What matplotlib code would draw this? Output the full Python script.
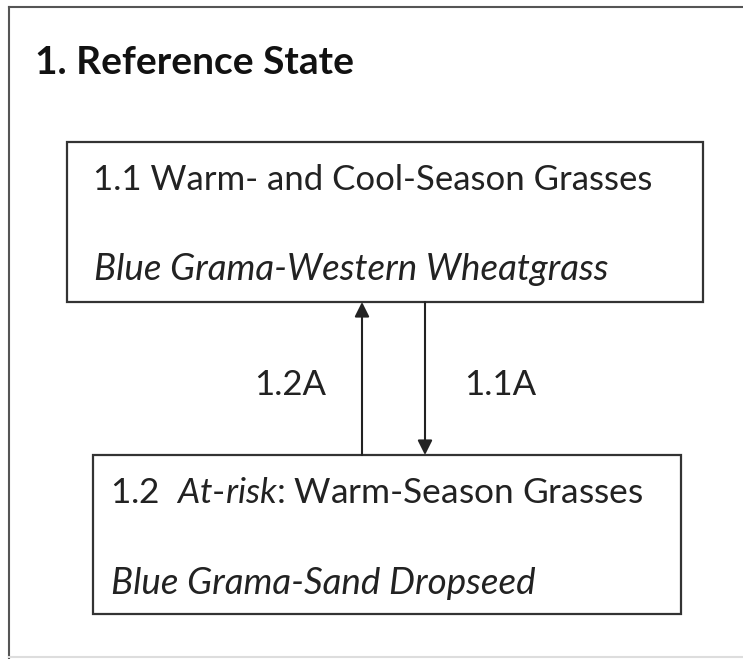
import matplotlib
matplotlib.use("Agg")
import matplotlib.pyplot as plt
from matplotlib.patches import Rectangle

# texts of the state diagram
title = "1. Reference State"
box_titles = ["1.1 Warm- and Cool-Season Grasses", "1.2  $\\it{At}$-$\\it{risk}$: Warm-Season Grasses"]
box_names = ["Blue Grama-Western Wheatgrass", "Blue Grama-Sand Dropseed"]
pathways = ["1.2A", "1.1A"]

plt.rcParams['font.family'] = ['Lato', 'DejaVu Sans']
plt.rcParams['mathtext.fontset'] = 'custom'
plt.rcParams['mathtext.it'] = 'Lato:italic'
plt.rcParams['mathtext.rm'] = 'Lato'

fig = plt.figure(figsize=(7.43, 6.59), dpi=100)
ax = fig.add_axes([0, 0, 1, 1])
ax.set_xlim(0, 743)
ax.set_ylim(659, 0)
ax.axis('off')

# outer frame
ax.plot([9, 9], [7, 659], color='#555555', lw=1.5)
ax.plot([9, 743], [7, 7], color='#555555', lw=1.5)
ax.plot([9, 743], [657, 657], color='#dddddd', lw=1.5)

ax.text(35, 63, title, fontsize=28, fontweight='bold', va='center', ha='left', color='#111111')

boxes = [(67, 142, 703, 302), (93, 455, 681, 614)]
pads = [26, 17]
sizes = [25, 25.4]
for (x0, y0, x1, y1), p, s, t, n in zip(boxes, pads, sizes, box_titles, box_names):
    ax.add_patch(Rectangle((x0, y0), x1 - x0, y1 - y0, fill=False, ec='#333333', lw=1.6))
    ax.text(x0 + p, y0 + 38, t, fontsize=s, va='center', ha='left', color='#222222')
    ax.text(x0 + p + 1, y0 + 128, n, fontsize=26.5, style='italic', va='center', ha='left', color='#222222')

# transition arrows
ax.annotate('', xy=(362, 302), xytext=(362, 455),
            arrowprops=dict(arrowstyle='-|>', color='#222222', lw=1.5, mutation_scale=22, shrinkA=0, shrinkB=0))
ax.annotate('', xy=(425, 455), xytext=(425, 302),
            arrowprops=dict(arrowstyle='-|>', color='#222222', lw=1.5, mutation_scale=22, shrinkA=0, shrinkB=0))
ax.text(290, 385, pathways[0], fontsize=25, va='center', ha='center', color='#222222')
ax.text(500, 385, pathways[1], fontsize=25, va='center', ha='center', color='#222222')

fig.savefig('out.png', dpi=100)
